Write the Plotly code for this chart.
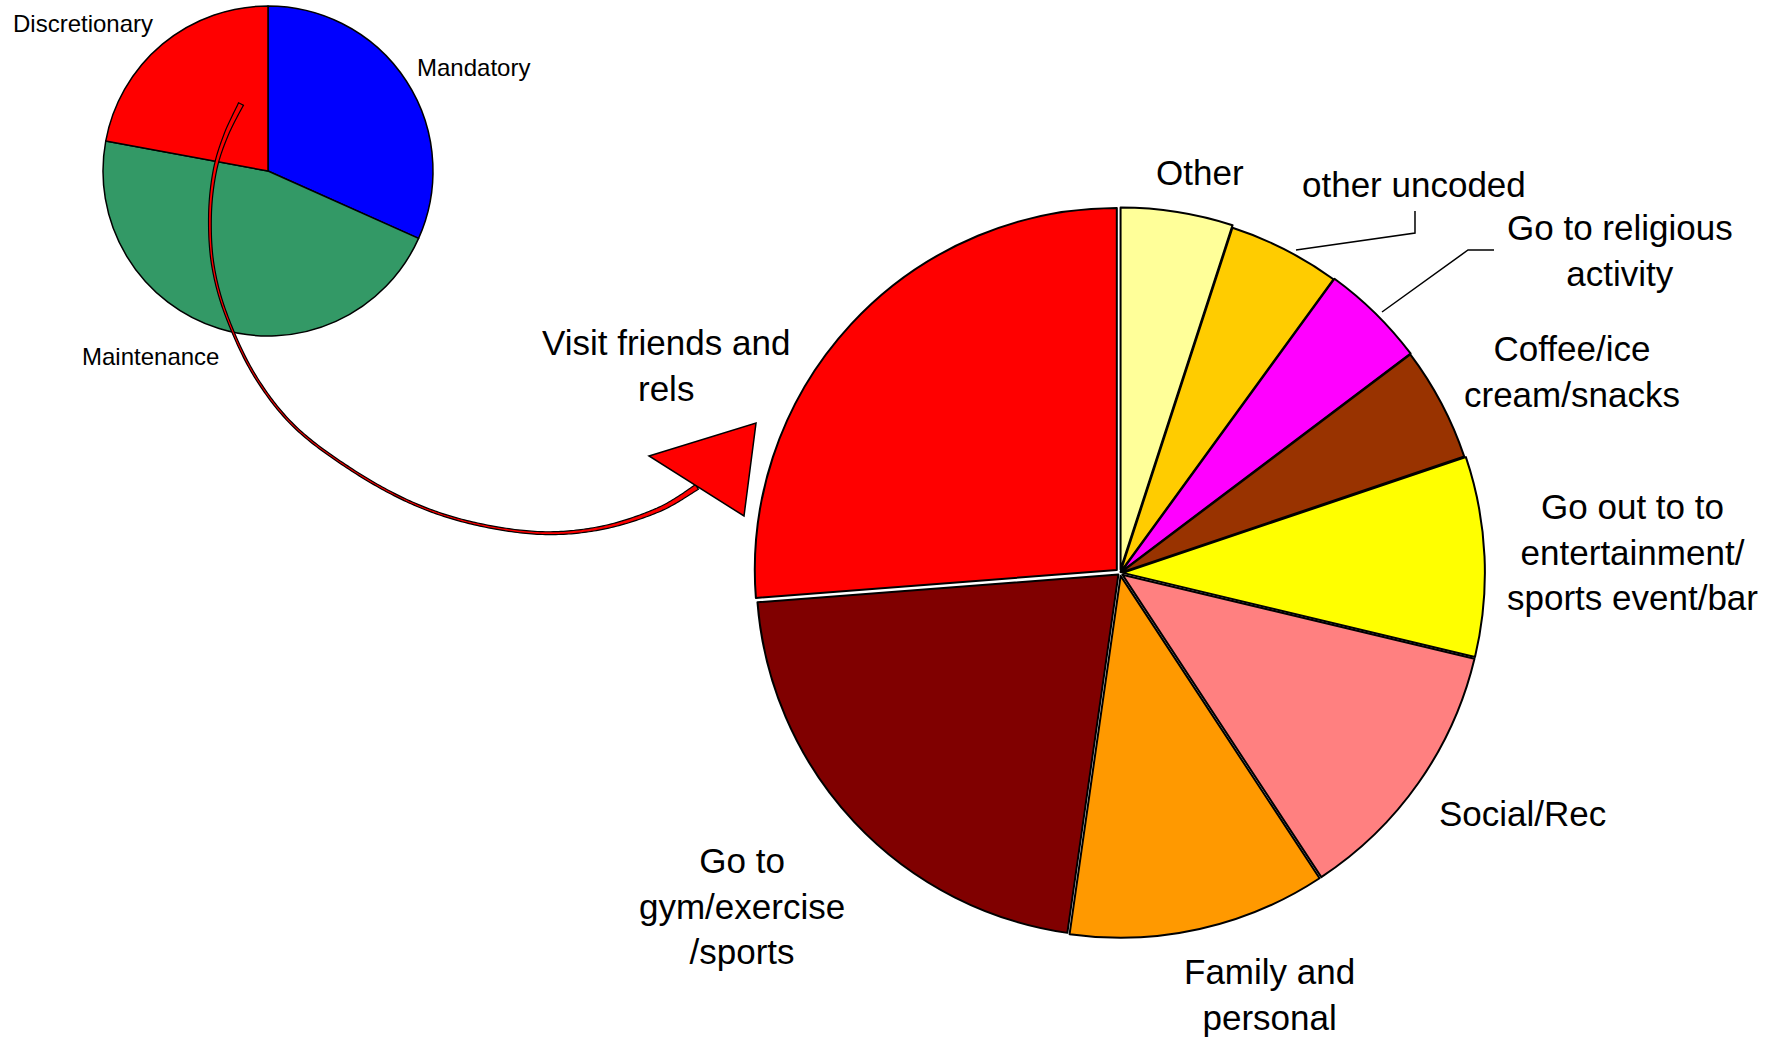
import numpy as np
import plotly.graph_objects as go

W, H = 1776, 1038

# Overall trip purposes (small pie, clockwise from 12 o'clock)
purpose_labels = ["Mandatory", "Maintenance", "Discretionary"]
purpose_share = [31.7, 46.2, 22.1]
purpose_colors = ["#0000FF", "#339966", "#FF0000"]

# Breakdown of discretionary trips (large pie, clockwise from 12 o'clock)
activity_labels = [
    "Other",
    "other uncoded",
    "Go to religious<br>activity",
    "Coffee/ice<br>cream/snacks",
    "Go out to to<br>entertainment/<br>sports event/bar",
    "Social/Rec",
    "Family and<br>personal",
    "Go to<br>gym/exercise<br>/sports",
    "Visit friends and<br>rels",
]
activity_share = [5.0, 5.0, 4.7, 5.1, 8.9, 12.0, 11.5, 21.5, 26.2]
activity_colors = ["#FFFF99", "#FFCC00", "#FF00FF", "#993300", "#FFFF00",
                   "#FF8080", "#FF9900", "#800000", "#FF0000"]
activity_pull = [0.01, 0.003, 0.006, 0.004, 0.008, 0.008, 0.008, 0.006, 0.012]

# label anchor points in page pixels (x, y of the text block centre)
activity_label_pos = [(1200, 173), (1414, 184), (1620, 251), (1572, 371), (1632, 552),
                      (1522, 813), (1269, 994), (742, 906), (666, 365)]
purpose_label_pos = [(473, 67), (150, 356), (83, 24)]

FONT = "Liberation Sans, Arial, sans-serif"


def px(x):
    return x / W


def py(y):
    return 1 - y / H


def domain_for(cx, cy, r):
    return dict(x=[px(cx - r), px(cx + r)], y=[py(cy + r), py(cy - r)])


big_r = 362 * (1 + max(activity_pull))

fig = go.Figure()
fig.add_trace(go.Pie(
    labels=purpose_labels, values=purpose_share, sort=False,
    direction="clockwise", rotation=0,
    marker=dict(colors=purpose_colors, line=dict(color="black", width=1.5)),
    textinfo="none", hoverinfo="label+percent",
    domain=domain_for(268, 171, 165), showlegend=False,
))
fig.add_trace(go.Pie(
    labels=activity_labels, values=activity_share, sort=False,
    direction="clockwise", rotation=0, pull=activity_pull,
    marker=dict(colors=activity_colors, line=dict(color="black", width=2)),
    textinfo="none", hoverinfo="label+percent",
    domain=domain_for(1120, 573, big_r), showlegend=False,
))

annotations = []
for lab, (x, y) in zip(activity_labels, activity_label_pos):
    annotations.append(dict(text=lab, x=px(x), y=py(y), xref="paper", yref="paper",
                            xanchor="center", yanchor="middle", showarrow=False,
                            font=dict(family=FONT, size=35, color="black")))
for lab, (x, y) in zip(purpose_labels, purpose_label_pos):
    annotations.append(dict(text=lab, x=px(x), y=py(y), xref="paper", yref="paper",
                            xanchor="center", yanchor="middle", showarrow=False,
                            font=dict(family=FONT, size=24, color="black")))


def poly_path(points, close=False):
    s = "M " + " L ".join(f"{px(x):.5f},{py(y):.5f}" for x, y in points)
    return s + (" Z" if close else "")


def catmull_rom(points, steps=24):
    """Dense sampling of a Catmull-Rom spline through the given pixel points."""
    p = np.array(points, dtype=float)
    n = len(p)
    out = []
    for i in range(n - 1):
        p0 = p[i - 1] if i > 0 else p[i]
        p1, p2 = p[i], p[i + 1]
        p3 = p[i + 2] if i + 2 < n else p[i + 1]
        for t in np.linspace(0, 1, steps, endpoint=False):
            t2, t3 = t * t, t * t * t
            pt = 0.5 * ((2 * p1) + (-p0 + p2) * t + (2 * p0 - 5 * p1 + 4 * p2 - p3) * t2
                        + (-p0 + 3 * p1 - 3 * p2 + p3) * t3)
            out.append(pt)
    out.append(p[-1])
    return np.array(out)


def ribbon(points, w_end=5.5, w_mid=2.2):
    """Closed outline of a thin band along the curve, wider at both ends."""
    c = catmull_rom(points)
    d = np.gradient(c, axis=0)
    d /= np.linalg.norm(d, axis=1, keepdims=True)
    nrm = np.stack([-d[:, 1], d[:, 0]], axis=1)
    s = np.linspace(0, 1, len(c))
    w = w_mid + (w_end - w_mid) * np.abs(2 * s - 1) ** 3
    left = c + nrm * (w / 2)[:, None]
    right = c - nrm * (w / 2)[:, None]
    outline = np.vstack([left, right[::-1]])
    return poly_path([tuple(q) for q in outline], close=True)


# curved connector from the discretionary slice to the breakdown pie
arrow_pts = [(241, 104), (226, 135), (215, 170), (210, 215), (213, 266), (227, 317),
             (255, 376), (295, 427), (352, 470), (412, 503), (472, 523), (540, 533),
             (601, 528), (658, 510), (697, 487)]
arrow_head = [(649, 456), (756, 423), (744, 516)]

shapes = [
    dict(type="path", xref="paper", yref="paper", path=ribbon(arrow_pts),
         fillcolor="#FF0000", line=dict(color="black", width=1.2), layer="above"),
    dict(type="path", xref="paper", yref="paper", path=poly_path(arrow_head, close=True),
         fillcolor="#FF0000", line=dict(color="black", width=1.5), layer="above"),
    # leader lines for the two narrow slices
    dict(type="path", xref="paper", yref="paper",
         path=poly_path([(1296, 250), (1415, 233), (1415, 211)]),
         line=dict(color="black", width=1.5), layer="above"),
    dict(type="path", xref="paper", yref="paper",
         path=poly_path([(1382, 312), (1468, 250), (1494, 250)]),
         line=dict(color="black", width=1.5), layer="above"),
]

fig.update_layout(
    width=W, height=H, margin=dict(l=0, r=0, t=0, b=0),
    paper_bgcolor="white", plot_bgcolor="white",
    annotations=annotations, shapes=shapes, showlegend=False,
)

fig.write_html("out.html")
